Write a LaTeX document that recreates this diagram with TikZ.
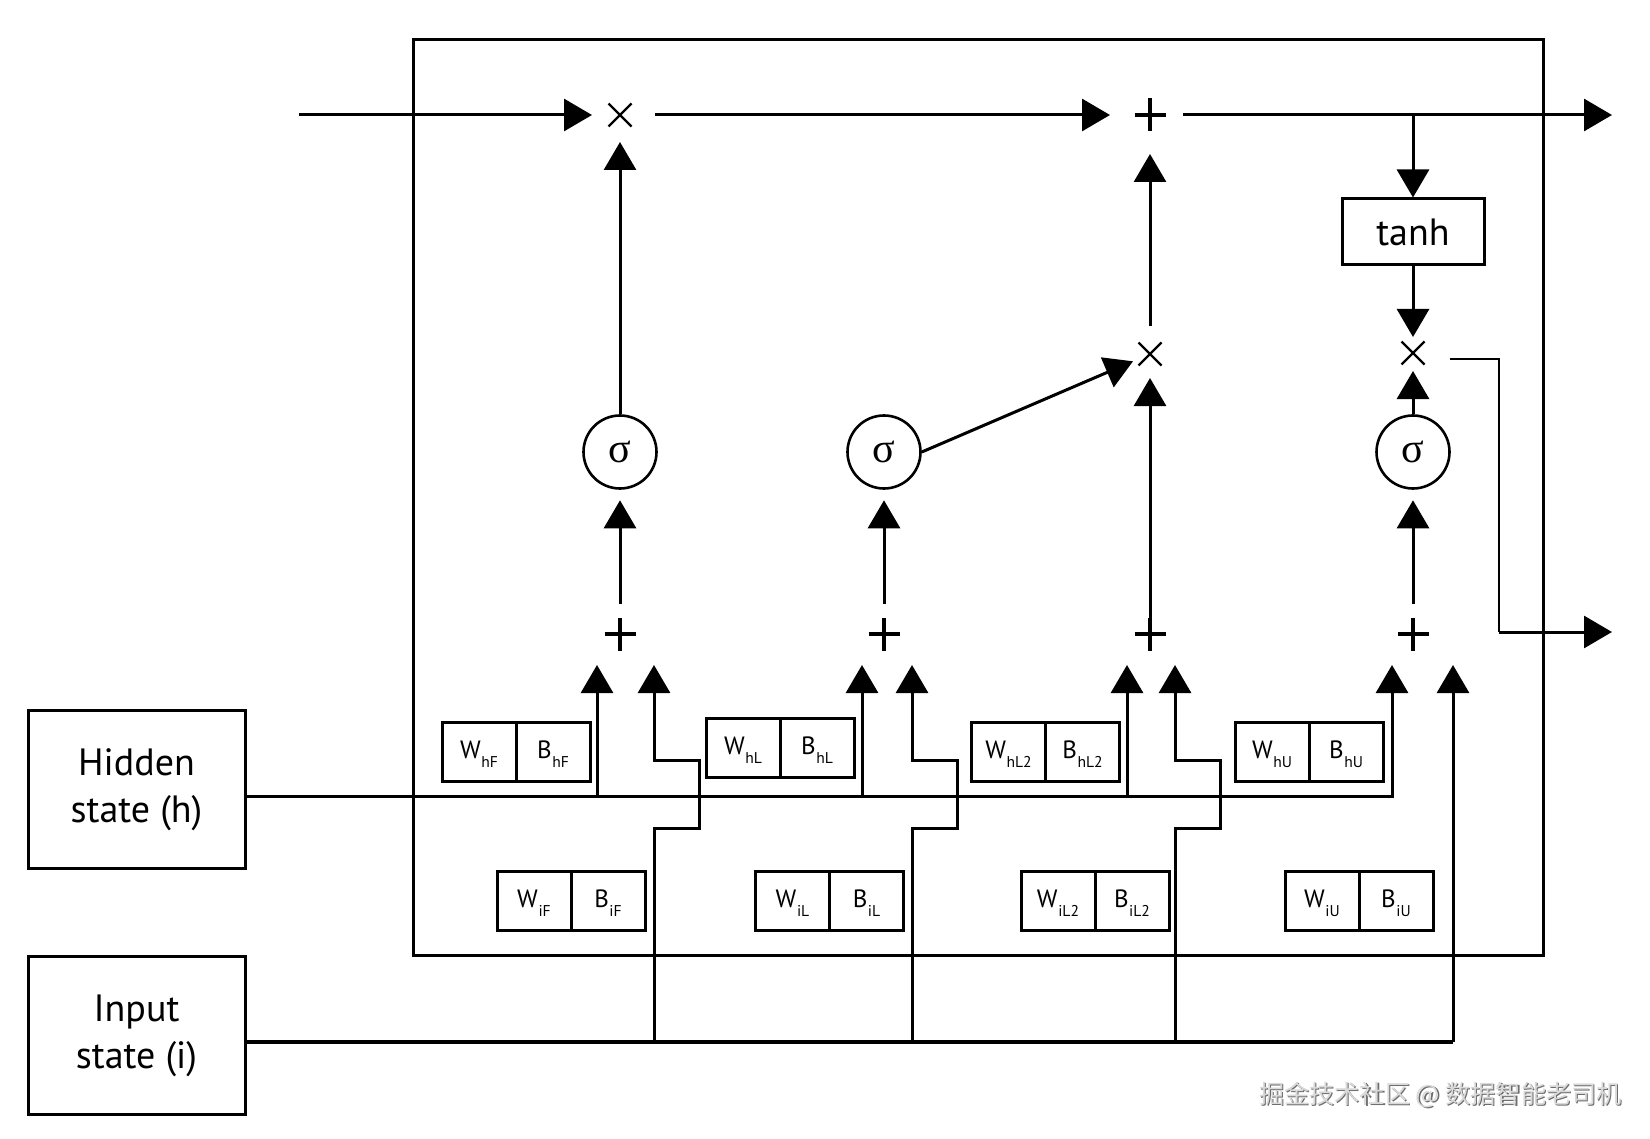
\documentclass[tikz,border=0pt]{standalone}
\usepackage{fontspec}
\setmainfont{PT Sans}
\newfontfamily\cjkfont{Noto Sans CJK SC}
\newfontfamily\grkfont{Liberation Serif}
\usetikzlibrary{arrows.meta,calc}
\newcommand\lsub[1]{\kern0.3pt\raisebox{-4.5pt}{\fontsize{7.8}{8}\selectfont #1}}
\begin{document}
\begin{tikzpicture}[x=0.5pt,y=-0.5pt,
  ln/.style={line width=1.5pt},
  arr/.style={ln,-{Triangle[length=14pt,width=16pt]}},
  box/.style={draw,line width=1.5pt,inner sep=0pt},
  cellw/.style={box,minimum width=37pt,minimum height=29.5pt,text height=9pt,text depth=2.5pt,font=\fontsize{12.5}{13}\selectfont},
  state/.style={box,minimum width=108.5pt,minimum height=79pt,align=center,font=\fontsize{19}{23.5}\selectfont},
  sig/.style={draw,circle,line width=1.3pt,minimum size=36.5pt,inner sep=0pt,font=\grkfont\fontsize{21}{21}\selectfont},
  times/.style={minimum size=11.5pt,inner sep=0pt,outer sep=0pt},
  plus/.style={minimum width=15.5pt,minimum height=16.5pt,inner sep=0pt,outer sep=0pt},
  wmark/.style={font=\cjkfont\fontsize{12.6}{14}\selectfont}
]
\useasboundingbox (0,0) rectangle (1650,1139);
\fill[white] (0,0) rectangle (1650,1139);

% outer cell
\node[box,minimum width=565pt,minimum height=457.5pt] (cell) at (978,497.5) {};

% state boxes
\node[state] (hid) at (136.5,789.5) {Hidden\\state (h)};
\node[state] (inp) at (136.5,1035.5) {Input\\state (i)};

% operators
\node[times] (mF) at (620,115) {};
\node[plus] (pT) at (1150,115) {};
\node[box,minimum width=71pt,minimum height=33pt,font=\fontsize{19}{20}\selectfont] (tanh) at (1413,232) {tanh};
\node[times] (mU) at (1413,353) {};
\node[times] (mL) at (1150,354) {};
\node[sig] (sF) at (620,452) {σ};
\node[sig] (sL) at (884,452) {σ};
\node[sig] (sU) at (1413,452) {σ};
\node[plus] (aF) at (620,634) {};
\node[plus] (aL) at (884,634) {};
\node[plus] (aM) at (1150,634) {};
\node[plus] (aU) at (1413,634) {};

\foreach \n in {mF,mL,mU}
  \draw[line width=1.1pt] (\n.north west) -- (\n.south east) (\n.north east) -- (\n.south west);
\foreach \n in {pT,aF,aL,aM,aU}
  \draw[line width=1.6pt] (\n.north) -- (\n.south) (\n.west) -- (\n.east);

% weight / bias cells
\node[cellw] (hFw) at (479,751.5) {W\lsub{hF}};
\node[cellw] (hFb) at (553,751.5) {B\lsub{hF}};
\node[cellw] (iFw) at (534,901) {W\lsub{iF}};
\node[cellw] (iFb) at (608,901) {B\lsub{iF}};
\node[cellw] (hLw) at (743,748) {W\lsub{hL}};
\node[cellw] (hLb) at (817,748) {B\lsub{hL}};
\node[cellw] (iLw) at (792.5,901) {W\lsub{iL}};
\node[cellw] (iLb) at (866.5,901) {B\lsub{iL}};
\node[cellw] (hMw) at (1008.5,751.5) {W\lsub{hL2}};
\node[cellw] (hMb) at (1082.5,751.5) {B\lsub{hL2}};
\node[cellw] (iMw) at (1058,900.5) {W\lsub{iL2}};
\node[cellw] (iMb) at (1132,900.5) {B\lsub{iL2}};
\node[cellw] (hUw) at (1272,752) {W\lsub{hU}};
\node[cellw] (hUb) at (1346,752) {B\lsub{hU}};
\node[cellw] (iUw) at (1322,901) {W\lsub{iU}};
\node[cellw] (iUb) at (1396,901) {B\lsub{iU}};

% coordinates
\coordinate (cin) at (299,115);
\coordinate (tout) at (1612,115);
\coordinate (br) at (1413,115);
\coordinate (hcorner) at (1499,632);
\coordinate (hout) at (1612,632);
\coordinate (hl) at (0,796);
\coordinate (il) at (0,1042);
\coordinate (tF1) at (597,665);
\coordinate (tF2) at (654,665);
\coordinate (tL1) at (862,665);
\coordinate (tL2) at (912,665);
\coordinate (tM1) at (1127,665);
\coordinate (tM2) at (1175,665);
\coordinate (tU1) at (1392,665);
\coordinate (tU2) at (1453,665);

% top connectors
\draw[arr, shorten >=8.25pt] (cin) -- (mF);
\draw[arr, shorten <=11.75pt, shorten >=12.25pt] (mF) -- (pT);
\draw[arr, shorten <=8.75pt] (pT) -- (tout);
\draw[arr] (br) -- (tanh);
\draw[arr, shorten >=2.25pt] (tanh) -- (mU);
\draw[arr, shorten >=3.25pt] (sU) -- (mU);
\draw[line width=1.3pt] ([xshift=12.75pt,yshift=-3pt]mU.east) -| (hcorner);
\draw[arr] (hcorner) -- (hout);

\draw[arr, shorten >=7.75pt] (sF) -- (mF);
\draw[arr, shorten >=3pt] (sL.east) -- (mL);
\draw[arr, shorten <=8.25pt, shorten >=11.25pt] (mL) -- (pT);
\draw[arr, shorten >=6.25pt] (aM) -- (mL);
\foreach \a/\s in {aF/sF,aL/sL,aU/sU}
  \draw[arr, shorten <=6.75pt, shorten >=5.25pt] (\a) -- (\s);

% hidden state line
\draw[arr] ([yshift=-3.25pt]hid.east) -| (tU1);
\foreach \t in {tF1,tL1,tM1}
  \draw[arr] (\t |- hl) -- (\t);

% input state line
\draw[line width=2.25pt] ([yshift=-3.25pt]inp.east) -- (tU2 |- il);
\draw[arr] (tU2 |- il) -- (tU2);
\foreach \t in {tF2,tL2,tM2}
  \draw[arr] (\t |- il) -- ++(0,-214) -- ++(45,0) -- ++(0,-68) -- ++(-45,0) -- (\t);

% watermark
\node[wmark, text=gray!85!black] (wms) at (1441.7,1096.2) {掘金技术社区 @ 数据智能老司机};
\node[wmark, text=gray!30] (wm) at (1440.5,1095) {掘金技术社区 @ 数据智能老司机};
\end{tikzpicture}
\end{document}
